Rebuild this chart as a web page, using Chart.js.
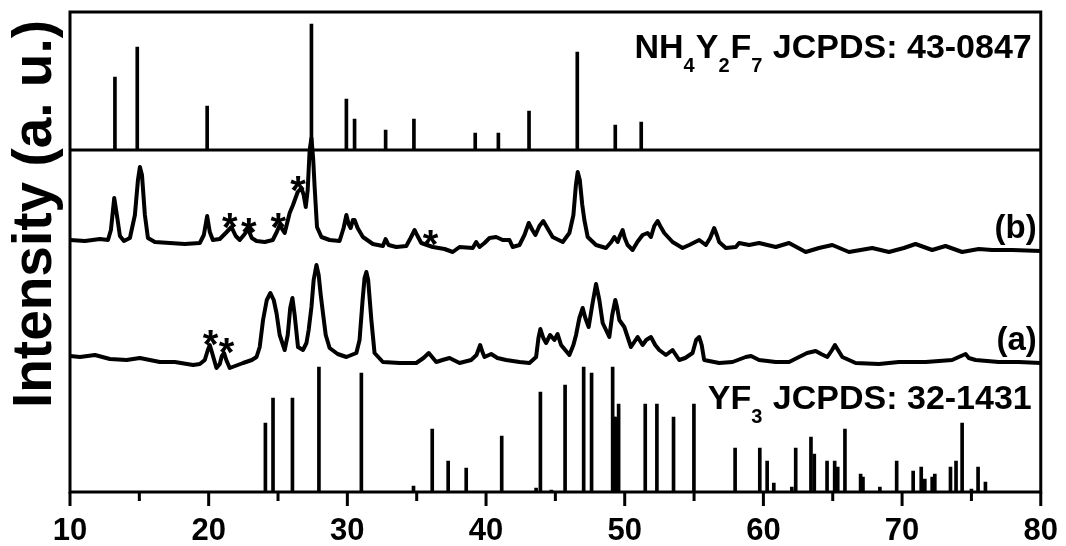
<!DOCTYPE html>
<html>
<head>
<meta charset="utf-8">
<title>XRD patterns</title>
<script src="https://cdn.jsdelivr.net/npm/chart.js@4.4.1/dist/chart.umd.min.js"></script>
<style>
  html, body { margin: 0; padding: 0; background: #fff; }
  canvas { display: block; }
</style>
</head>
<body>
<canvas id="xrd" width="1066" height="546"></canvas>
<script>
// 2θ axis (degrees)
const twoThetaMin = 10;
const twoThetaMax = 80;
const xMajorTicks = [10, 20, 30, 40, 50, 60, 70, 80];
const xMinorTicks = [15, 25, 35, 45, 55, 65, 75];

// vertical layout of the stacked patterns (arbitrary intensity units)
const intensityMax = 480;
const refPanelBase = 342;   // baseline of the NH4Y2F7 reference panel
const offsetA = 130;        // vertical offset of pattern (a)
const offsetB = 242;        // vertical offset of pattern (b)

// NH4Y2F7 reference lines, JCPDS 43-0847
const nh4Pos = [13.24, 14.85, 19.89, 27.41, 29.93, 30.52, 32.76, 34.80, 39.22, 40.89, 43.10, 46.58, 49.32, 51.19];
const nh4Int = [73, 103, 44, 126, 51, 31, 20, 31, 17, 17, 39, 98, 25, 28];

// YF3 reference lines, JCPDS 32-1431
const yf3Pos = [24.09, 24.64, 26.04, 27.95, 31.01, 34.77, 36.12, 37.27, 38.57, 41.13, 43.61, 43.92, 44.71, 45.70,
  47.04, 47.61, 49.13, 49.25, 49.39, 49.56, 51.48, 52.32, 53.52, 54.99, 57.96, 59.74, 60.27, 60.75, 62.05, 62.33,
  63.43, 63.67, 64.59, 65.14, 65.36, 65.88, 67.01, 67.18, 68.40, 69.61, 70.80, 71.38, 71.64, 72.17, 72.36, 73.49,
  73.89, 74.33, 75.00, 75.48, 76.01];
const yf3Int = [69, 94, 94, 125, 119, 6, 63, 31, 24, 56, 4, 100, 2, 107,
  125, 119, 125, 75, 75, 88, 88, 88, 75, 88, 44, 44, 31, 9, 5, 44,
  55, 38, 31, 31, 25, 63, 18, 15, 5, 31, 21, 25, 13, 15, 18, 25,
  31, 69, 3, 25, 10];

// measured pattern (b)
const traceB2theta = [10.00, 11.08, 12.16, 12.74, 12.95, 13.19, 13.38, 13.60, 13.89, 14.32, 14.68, 14.90, 15.04, 15.19,
  15.40, 15.62, 16.12, 17.20, 18.28, 19.36, 19.65, 19.89, 20.08, 20.30, 20.80, 21.23, 21.64, 21.95, 22.24, 22.60,
  22.84, 23.11, 23.45, 24.04, 24.62, 24.91, 25.12, 25.34, 25.48, 25.84, 26.08, 26.42, 26.69, 26.85, 27.00, 27.14,
  27.28, 27.41, 27.54, 27.64, 27.81, 28.13, 28.72, 29.44, 29.73, 29.93, 30.09, 30.24, 30.40, 30.52, 30.74, 31.12,
  31.84, 32.56, 32.76, 32.97, 33.53, 34.25, 34.56, 34.85, 35.06, 35.33, 36.16, 37.01, 37.60, 38.09, 39.04, 39.29,
  39.53, 39.89, 40.25, 40.73, 41.20, 41.69, 41.92, 42.41, 42.77, 43.08, 43.34, 43.56, 43.85, 44.13, 44.42, 44.80,
  45.53, 46.01, 46.30, 46.48, 46.61, 46.76, 46.94, 47.09, 47.33, 47.93, 48.65, 49.03, 49.25, 49.49, 49.68, 49.85,
  50.00, 50.21, 50.57, 50.91, 51.29, 51.65, 51.89, 52.13, 52.37, 52.56, 52.85, 53.45, 54.17, 54.65, 55.37, 55.85,
  56.16, 56.45, 56.67, 56.81, 57.29, 58.01, 58.25, 58.97, 59.69, 60.89, 61.85, 63.05, 64.01, 64.97, 66.17, 67.85,
  69.05, 70.13, 70.97, 72.17, 73.13, 74.33, 75.53, 76.49, 77.93, 80.00];
const traceBInt = [10, 9, 11, 10, 20, 52, 35, 14, 9, 12, 35, 70, 83, 75,
  35, 12, 8, 7, 6, 7, 15, 34, 18, 10, 11, 17, 23, 14, 10, 16,
  21, 12, 9, 8, 10, 18, 25, 20, 17, 37, 45, 58, 62, 55, 43, 60,
  100, 112, 90, 63, 23, 13, 10, 9, 22, 35, 26, 22, 30, 30, 22, 13,
  6, 4, 11, 5, 3, 4, 12, 20, 14, 7, 3, 1, -2, 3, 2, 8,
  3, 7, 12, 13, 10, 10, 3, 5, 15, 27, 20, 15, 24, 29, 22, 13,
  8, 17, 35, 65, 78, 70, 45, 30, 13, 5, 2, 8, 13, 8, 15, 20,
  12, 5, 0, 8, 15, 17, 13, 24, 29, 24, 17, 8, 2, 5, 10, 5,
  12, 22, 14, 8, 2, 3, 7, 5, 7, 3, 7, -2, 2, 5, -2, 2,
  -2, 2, 6, 0, 4, -2, 1, 0, 0, -1];

// measured pattern (a)
const traceA2theta = [10.00, 10.72, 11.80, 12.88, 14.08, 15.04, 16.48, 17.56, 18.88, 19.36, 19.72, 19.94, 20.08, 20.23,
  20.56, 20.80, 20.95, 21.11, 21.27, 21.52, 22.48, 23.11, 23.45, 23.68, 23.92, 24.19, 24.45, 24.69, 24.89, 25.12,
  25.48, 25.70, 25.88, 26.04, 26.20, 26.44, 26.80, 27.05, 27.21, 27.41, 27.57, 27.77, 27.93, 28.08, 28.24, 28.44,
  28.72, 29.30, 29.93, 30.65, 30.88, 31.10, 31.24, 31.37, 31.50, 31.73, 31.96, 32.56, 33.77, 34.97, 35.49, 35.87,
  36.41, 36.86, 37.37, 38.09, 38.93, 39.31, 39.58, 39.74, 39.89, 40.37, 40.82, 41.45, 42.41, 43.13, 43.61, 43.78,
  43.92, 44.13, 44.33, 44.62, 44.93, 45.16, 45.41, 46.01, 46.30, 46.49, 46.73, 46.97, 47.16, 47.40, 47.66, 47.93,
  48.17, 48.41, 48.89, 49.10, 49.32, 49.46, 49.61, 49.97, 50.45, 50.93, 51.29, 51.55, 51.89, 52.20, 52.49, 52.97,
  53.45, 53.93, 54.36, 54.89, 55.15, 55.37, 55.55, 55.73, 56.81, 57.77, 58.73, 59.11, 59.69, 60.89, 61.85, 62.57,
  63.15, 63.77, 64.16, 64.61, 64.95, 65.16, 65.38, 65.69, 66.65, 68.33, 69.77, 71.70, 73.61, 74.09, 74.58, 74.81,
  75.30, 76.97, 78.41, 80.00];
const traceAInt = [6, 5, 7, 3, 2, 4, 0, 0, -3, -2, 2, 12, 17, 10,
  -6, -2, 6, 9, 2, -6, -1, 2, 5, 15, 42, 62, 69, 62, 49, 27,
  12, 27, 54, 64, 47, 15, 12, 19, 32, 55, 82, 97, 87, 67, 49, 27,
  14, 8, 5, 9, 22, 62, 84, 90, 82, 42, 9, 0, -1, -1, 4, 9,
  0, 2, 4, -1, 2, 7, 17, 10, 5, 8, 4, 2, 0, -1, 5, 24,
  33, 24, 19, 27, 22, 28, 17, 7, 17, 27, 44, 54, 44, 35, 57, 78,
  62, 39, 25, 47, 62, 54, 42, 35, 15, 25, 17, 22, 25, 17, 12, 7,
  12, 2, 4, 9, 22, 25, 17, 2, -1, 0, 5, 6, 2, 0, 0, 5,
  9, 11, 8, 5, 12, 17, 12, 5, -1, -2, 0, 0, 2, 5, 8, 4,
  2, 0, 0, -1];

// impurity markers (*) as [2θ, height above the axis baseline]
const starMarks = [[21.52, 274], [22.89, 269], [25.02, 274], [26.45, 311], [36.00, 257], [20.13, 157], [21.28, 149]];

// pattern labels
const sampleLabels = [['(b)', offsetB + 12], ['(a)', offsetA + 12]];

const toPoints = (xs, ys, base) => xs.map((t, i) => ({ x: t, y: base + ys[i] }));
const toSticks = (xs, ys, base) => xs.map((t, i) => ({ x: t, y: [base, base + ys[i]] }));

const FONT = '"Liberation Sans", Arial, Helvetica, sans-serif';

const decorations = {
  id: 'decorations',
  afterDraw(chart) {
    const { ctx, chartArea: a, scales: { x, y } } = chart;
    ctx.save();
    ctx.strokeStyle = '#000';
    ctx.fillStyle = '#000';
    ctx.lineWidth = 3;
    ctx.lineCap = 'butt';

    // frame and panel separator
    ctx.strokeRect(a.left, a.top, a.right - a.left, a.bottom - a.top);
    const ySplit = y.getPixelForValue(refPanelBase);
    ctx.beginPath();
    ctx.moveTo(a.left, ySplit);
    ctx.lineTo(a.right, ySplit);
    ctx.stroke();

    // outward tick marks on the 2θ axis
    const tick = (v, len) => {
      const px = x.getPixelForValue(v);
      ctx.moveTo(px, a.bottom);
      ctx.lineTo(px, a.bottom + len);
    };
    ctx.beginPath();
    xMajorTicks.forEach(v => tick(v, 14));
    xMinorTicks.forEach(v => tick(v, 9));
    ctx.stroke();

    // y-axis title
    ctx.save();
    ctx.translate(36, (a.top + a.bottom) / 2 - 38);
    ctx.rotate(-Math.PI / 2);
    ctx.font = 'bold 55px ' + FONT;
    ctx.textAlign = 'center';
    ctx.textBaseline = 'middle';
    ctx.fillText('Intensity (a. u.)', 0, 0);
    ctx.restore();

    // formula labels with subscripts
    const drawFormula = (parts, right, baseline) => {
      const mainFont = 'bold 34px ' + FONT;
      const subFont = 'bold 20px ' + FONT;
      let total = 0;
      parts.forEach(([txt, sub]) => {
        ctx.font = sub ? subFont : mainFont;
        total += ctx.measureText(txt).width + (sub ? 1 : 0);
      });
      let cx = right - total;
      ctx.textAlign = 'left';
      ctx.textBaseline = 'alphabetic';
      parts.forEach(([txt, sub]) => {
        ctx.font = sub ? subFont : mainFont;
        ctx.fillText(txt, cx, sub ? baseline + 14 : baseline);
        cx += ctx.measureText(txt).width + (sub ? 1 : 0);
      });
    };
    drawFormula([['NH'], ['4', 1], ['Y'], ['2', 1], ['F'], ['7', 1], [' JCPDS: 43-0847']], a.right - 9, a.top + 46);
    drawFormula([['YF'], ['3', 1], [' JCPDS: 32-1431']], a.right - 9, y.getPixelForValue(83));

    // sample labels
    ctx.font = 'bold 33px ' + FONT;
    ctx.textAlign = 'right';
    ctx.textBaseline = 'alphabetic';
    sampleLabels.forEach(([txt, v]) => ctx.fillText(txt, a.right - 4, y.getPixelForValue(v)));

    // asterisks
    const starSize = 40;
    ctx.font = 'bold ' + starSize + 'px ' + FONT;
    ctx.textAlign = 'center';
    starMarks.forEach(([t, v]) => {
      ctx.fillText('*', x.getPixelForValue(t), y.getPixelForValue(v) + 0.575 * starSize);
    });
    ctx.restore();
  }
};

const lineStyle = {
  type: 'line',
  borderColor: '#000',
  borderWidth: 4,
  pointRadius: 0,
  tension: 0,
  borderJoinStyle: 'round',
  fill: false
};
const stickStyle = {
  type: 'bar',
  backgroundColor: '#000',
  borderWidth: 0,
  barThickness: 3,
  stack: 'refs'
};

new Chart(document.getElementById('xrd'), {
  type: 'line',
  data: {
    datasets: [
      Object.assign({ label: '(b)', data: toPoints(traceB2theta, traceBInt, offsetB) }, lineStyle),
      Object.assign({ label: '(a)', data: toPoints(traceA2theta, traceAInt, offsetA) }, lineStyle),
      Object.assign({ label: 'NH4Y2F7', data: toSticks(nh4Pos, nh4Int, refPanelBase) }, stickStyle),
      Object.assign({ label: 'YF3', data: toSticks(yf3Pos, yf3Int, 0) }, stickStyle)
    ]
  },
  options: {
    responsive: false,
    animation: false,
    devicePixelRatio: 1,
    layout: { padding: { left: 70, right: 24, top: 12, bottom: 0 } },
    plugins: { legend: { display: false }, tooltip: { enabled: false }, title: { display: false } },
    scales: {
      x: {
        type: 'linear',
        min: twoThetaMin,
        max: twoThetaMax,
        offset: false,
        grid: { display: false, drawTicks: true, tickLength: 13 },
        border: { display: false },
        ticks: {
          stepSize: 10,
          color: '#000',
          padding: 8,
          font: { family: FONT, size: 31, weight: 'bold' },
          maxRotation: 0
        },
        afterFit: s => { s.height = 54; }
      },
      y: {
        display: false,
        min: 0,
        max: intensityMax,
        stacked: false
      }
    }
  },
  plugins: [decorations]
});
</script>
</body>
</html>
